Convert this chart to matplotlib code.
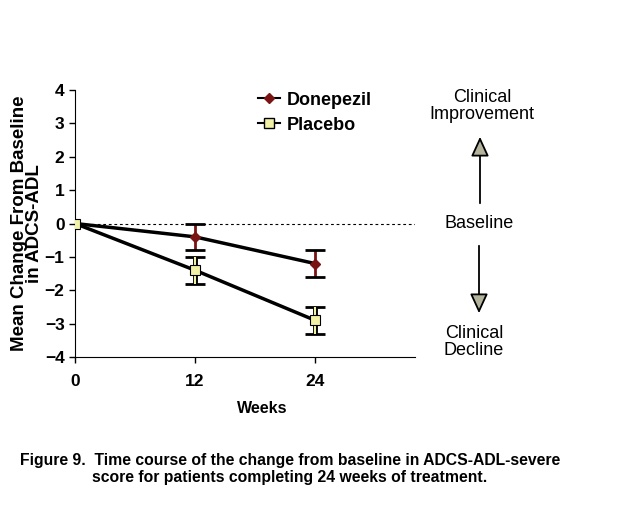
import matplotlib
matplotlib.use("Agg")
import matplotlib.pyplot as plt

plt.rcParams["font.family"] = "Liberation Sans"

# Data
weeks = [0, 12, 24]
donepezil = [0.0, -0.4, -1.2]
donepezil_err = [0.0, 0.4, 0.4]
placebo = [0.0, -1.4, -2.9]
placebo_err = [0.0, 0.4, 0.4]

y_ticks = [-4, -3, -2, -1, 0, 1, 2, 3, 4]
x_ticks = [0, 12, 24]

DONE_COLOR = "#7a1414"
PLAC_COLOR = "#f2f2a6"
ARROW_COLOR = "#b4b49c"

fig = plt.figure(figsize=(6.39, 5.07), dpi=100)
ax = fig.add_axes([75 / 639, 1 - 357 / 507, 340 / 639, 267 / 507])

# baseline
ax.axhline(0, color="black", linewidth=0.8, linestyle=(0, (2.5, 2.5)))

# donepezil
eb = ax.errorbar(weeks[1:], donepezil[1:], yerr=donepezil_err[1:], fmt="none",
                 ecolor="black", elinewidth=2, capsize=7, capthick=2, zorder=3)
eb[2][0].set_color(DONE_COLOR)
ax.plot(weeks, donepezil, color="black", linewidth=2.5, zorder=4)
ax.plot(weeks, donepezil, linestyle="none", marker="D", markersize=5,
        color=DONE_COLOR, zorder=5)

# placebo
eb = ax.errorbar(weeks[1:], placebo[1:], yerr=placebo_err[1:], fmt="none",
                 ecolor="black", elinewidth=3.5, capsize=7, capthick=2, zorder=3)
ax.errorbar(weeks[1:], placebo[1:], yerr=placebo_err[1:], fmt="none",
            ecolor=PLAC_COLOR, elinewidth=1.5, capsize=0, zorder=3.5)
ax.plot(weeks, placebo, color="black", linewidth=2.5, zorder=4)
ax.plot(weeks, placebo, linestyle="none", marker="s", markersize=7,
        markerfacecolor=PLAC_COLOR, markeredgecolor="black",
        markeredgewidth=0.8, zorder=6)

# legend entries
ax.plot([], [], color="black", linewidth=1.5, marker="D", markersize=5,
        markerfacecolor=DONE_COLOR, markeredgecolor=DONE_COLOR, label="Donepezil")
ax.plot([], [], color="black", linewidth=1.5, marker="s", markersize=7,
        markerfacecolor=PLAC_COLOR, markeredgecolor="black", label="Placebo")
leg = ax.legend(loc="upper left", bbox_to_anchor=(0.49, 1.055), frameon=False,
                handlelength=1.2, handletextpad=0.4, labelspacing=0.45,
                prop={"weight": "bold", "size": 13})

ax.set_xlim(0, 34)
ax.set_ylim(-4, 4)
ax.set_xticks(x_ticks)
ax.set_yticks(y_ticks)
ax.tick_params(labelsize=12.5, length=4, width=1)
ax.tick_params(axis="x", pad=8)
for lab in ax.get_xticklabels() + ax.get_yticklabels():
    lab.set_fontweight("bold")
ax.spines["top"].set_visible(False)
ax.spines["right"].set_visible(False)

ax.set_ylabel("Mean Change From Baseline\nin ADCS-ADL", fontsize=13.5,
              fontweight="bold", linespacing=0.85)
ax.yaxis.set_label_coords(-0.095, 0.5)
ax.set_xlabel("Weeks", fontsize=11.5, fontweight="bold")
ax.xaxis.set_label_coords(0.5 + 17 / 340, -0.165)

# right-hand annotations
fig.text(482 / 639, 1 - 106 / 507, "Clinical\nImprovement", ha="center",
         va="center", fontsize=13, linespacing=1.05)
fig.text(479 / 639, 1 - 223 / 507, "Baseline", ha="center", va="center",
         fontsize=13)
fig.text(474 / 639, 1 - 342 / 507, "Clinical\nDecline", ha="center",
         va="center", fontsize=13, linespacing=1.05)
for start, end in [((480, 206), (480, 134)), ((479, 243), (479, 316))]:
    fig.patches.append(matplotlib.patches.FancyArrowPatch(
        (start[0] / 639, 1 - start[1] / 507), (end[0] / 639, 1 - end[1] / 507),
        transform=fig.transFigure, arrowstyle="-|>,head_length=12,head_width=5.5",
        edgecolor="black", facecolor=ARROW_COLOR, linewidth=1.3))

# caption
fig.text(290 / 639, 1 - 469 / 507,
         "Figure 9.  Time course of the change from baseline in ADCS-ADL-severe\n"
         "score for patients completing 24 weeks of treatment.",
         ha="center", va="center", fontsize=11.3, fontweight="bold",
         linespacing=1.2)

fig.savefig("out.png", dpi=100)
